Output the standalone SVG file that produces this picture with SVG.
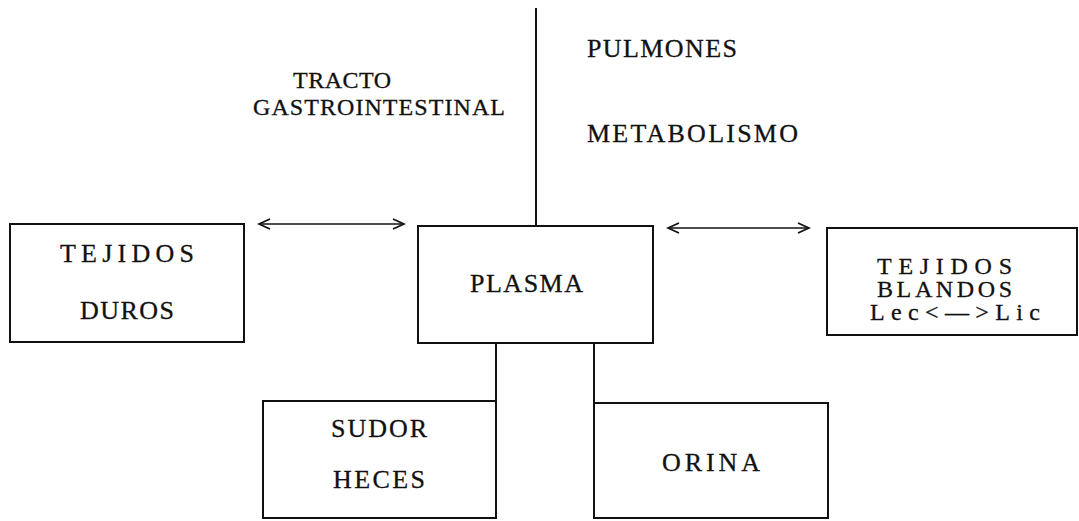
<svg xmlns="http://www.w3.org/2000/svg" width="1079" height="521" viewBox="0 0 1079 521">
<style>
.box{fill:#fff;stroke:#111;stroke-width:2}
.ln{stroke:#111;stroke-width:2;fill:none}
.ar{stroke:#111;stroke-width:1.5;fill:none}
text{font-family:"Liberation Serif","Times New Roman",serif;font-size:26px;fill:#111;stroke:#111;stroke-width:0.3}
.sm{font-size:24px}
</style>
<defs>
<marker id="chev" markerUnits="userSpaceOnUse" markerWidth="14" markerHeight="14" refX="12" refY="6" orient="auto-start-reverse" viewBox="0 0 14 12">
<polyline points="1,1 12,6 1,11" fill="none" stroke="#111" stroke-width="1.8"/>
</marker>
</defs>
<rect width="1079" height="521" fill="#fff"/>
<g id="connectors">
<line class="ln" x1="536" y1="8" x2="536" y2="226"/>
<line class="ln" x1="496" y1="343" x2="496" y2="401"/>
<line class="ln" x1="594" y1="343" x2="594" y2="403"/>
<line class="ar" x1="259" y1="224" x2="404" y2="224" marker-start="url(#chev)" marker-end="url(#chev)"/>
<line class="ar" x1="668" y1="228" x2="809" y2="228" marker-start="url(#chev)" marker-end="url(#chev)"/>
</g>
<g id="labels">
<text class="sm" x="293" y="88" textLength="98" lengthAdjust="spacing">TRACTO</text>
<text class="sm" x="253" y="115" textLength="252" lengthAdjust="spacing">GASTROINTESTINAL</text>
<text x="587" y="57" textLength="150" lengthAdjust="spacing">PULMONES</text>
<text x="587" y="142" textLength="211" lengthAdjust="spacing">METABOLISMO</text>
</g>
<g id="tejidos-duros">
<rect class="box" x="10" y="224" width="234" height="118"/>
<text x="60" y="262" textLength="134" lengthAdjust="spacing">TEJIDOS</text>
<text x="80" y="319" textLength="94" lengthAdjust="spacing">DUROS</text>
</g>
<g id="plasma">
<rect class="box" x="418" y="226" width="235" height="117"/>
<text x="470" y="292" textLength="113" lengthAdjust="spacing">PLASMA</text>
</g>
<g id="tejidos-blandos">
<rect class="box" x="827" y="228" width="250" height="107"/>
<text class="sm" x="877" y="274" textLength="135" lengthAdjust="spacing">TEJIDOS</text>
<text class="sm" x="877" y="297" textLength="135" lengthAdjust="spacing">BLANDOS</text>
<text class="sm" x="870" y="320" textLength="170" lengthAdjust="spacing">Lec&lt;—&gt;Lic</text>
</g>
<g id="sudor-heces">
<rect class="box" x="263" y="401" width="233" height="117"/>
<text x="331" y="437" textLength="96" lengthAdjust="spacing">SUDOR</text>
<text x="333" y="488" textLength="92" lengthAdjust="spacing">HECES</text>
</g>
<g id="orina">
<rect class="box" x="594" y="403" width="234" height="115"/>
<text x="662" y="471" textLength="98" lengthAdjust="spacing">ORINA</text>
</g>
</svg>
